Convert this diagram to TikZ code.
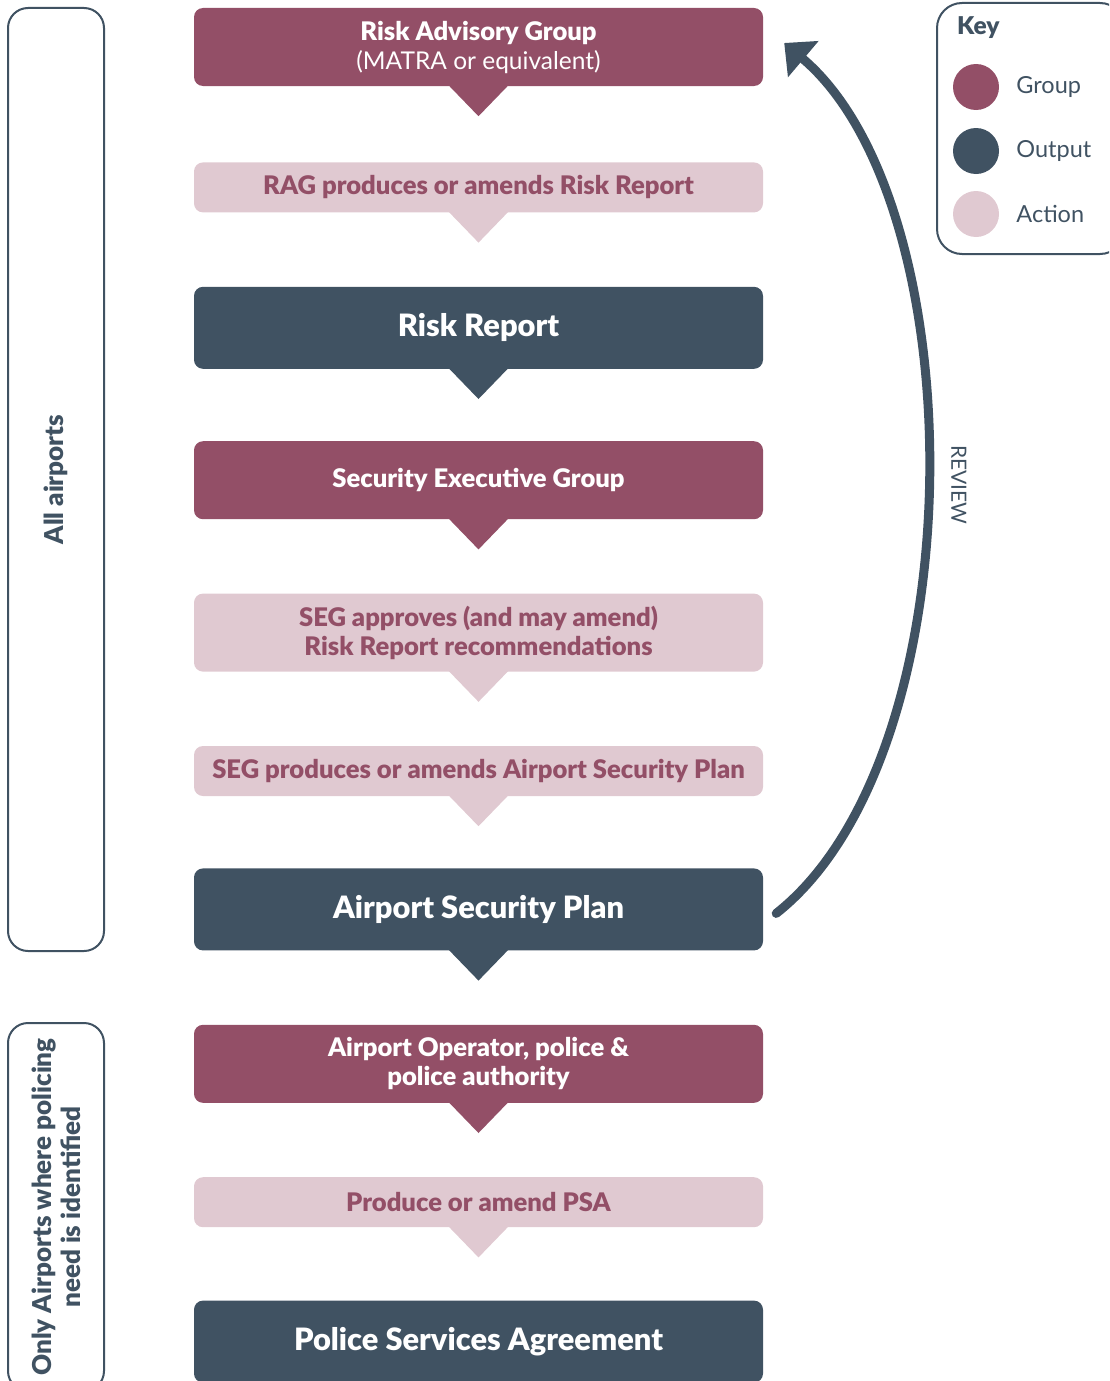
\documentclass[tikz,border=0pt]{standalone}
\usepackage{fontspec}
\setmainfont{Lato}[BoldFont={Lato Black}]
\usetikzlibrary{positioning,arrows.meta}
\definecolor{grpc}{HTML}{934F67}
\definecolor{outc}{HTML}{405262}
\definecolor{actc}{HTML}{E0C9D1}
\tikzset{
  % --- flow boxes ------------------------------------------------------------
  box/.style={rectangle,rounded corners=9pt,minimum width=569pt,align=center,
              inner sep=4pt,font=\fontsize{25.6}{29}\selectfont\bfseries},
  grp/.style={box,fill=grpc,text=white,minimum height=78pt},
  outp/.style={box,fill=outc,text=white,minimum height=82pt,
               font=\fontsize{30.8}{35}\selectfont\bfseries},
  act/.style={box,fill=actc,text=grpc,minimum height=50pt},
  % --- side panels and key ---------------------------------------------------
  panel/.style={draw=outc,line width=2pt,rounded corners=20pt,text=outc,
                align=center,font=\fontsize{26}{29}\selectfont\bfseries},
  keydot/.style={circle,minimum size=46pt,inner sep=0pt},
  keylab/.style={anchor=west,text=outc,inner sep=0pt,
                 font=\fontsize{23.5}{27}\selectfont},
  review/.style={outc,line width=9pt,line cap=round,
                 -{Triangle[length=25pt,width=46pt]}},
}

\begin{document}
\begin{tikzpicture}[x=1pt,y=-1pt,node distance=74pt]
  \useasboundingbox (0,0) rectangle (1109,1381);
  \clip (0,0) rectangle (1109,1381);

  \node[grp] (rag) at (478.5,47)
       {Risk Advisory Group\\\mdseries\fontsize{24.5}{29}\selectfont(MATRA or equivalent)};
  \node[act,below=76pt of rag] (ragact) {RAG produces or amends Risk Report};
  \node[outp,below=of ragact] (rr)    {Risk Report};
  \node[grp,below=72pt of rr] (seg)   {Security Executive Group};
  \node[act,below=of seg,minimum height=78pt] (segok)
       {SEG approves (and may amend)\\Risk Report recommendations};
  \node[act,below=of segok]  (segact) {SEG produces or amends Airport Security Plan};
  \node[outp,below=72pt of segact] (asp) {Airport Security Plan};
  \node[grp,below=of asp]    (aop)
       {Airport Operator, police \&\\police authority};
  \node[act,below=of aop]    (psa)    {Produce or amend PSA};
  \node[outp,below=73pt of psa] (agr) {Police Services Agreement};

  % pointers under each box, same colour as the box
  \foreach \n/\c in {rag/grpc,ragact/actc,rr/outc,seg/grpc,segok/actc,
                     segact/actc,asp/outc,aop/grpc,psa/actc}
    \fill[\c] ([xshift=-30pt,yshift=1pt]\n.south) --
              ([xshift=30pt,yshift=1pt]\n.south) --
              ([yshift=-30pt]\n.south) -- cycle;

  % review loop back to the top
  \draw[review] ([xshift=13pt,yshift=-4pt]asp.east)
       .. controls (977,755) and (976,205) .. ([xshift=21pt,yshift=4pt]rag.east);
  \node[rotate=-90,text=outc,font=\fontsize{21}{25}\selectfont] (rev)
       at (959,485) {REVIEW};

  % scope panels on the left
  \node[panel,rotate=90,minimum width=943pt,minimum height=96pt] (allap)
       at (56,479.5) {All airports};
  \node[panel,rotate=90,minimum width=368pt,minimum height=96pt] (polap)
       at (56,1207) {Only Airports where policing\\need is identified};

  % key
  \node[panel,minimum width=188pt,minimum height=251pt,rounded corners=25pt]
       (keybox) at (1031,128.5) {};
  \node[keylab,font=\fontsize{24.5}{28}\selectfont\bfseries] (keyt) at (957,28) {Key};
  \node[keydot,fill=grpc] (kg) at (976,87)  {};
  \node[keydot,fill=outc] (ko) at (976,151) {};
  \node[keydot,fill=actc] (ka) at (976,214) {};
  \node[keylab,right=17pt of kg] {Group};
  \node[keylab,right=17pt of ko] {Output};
  \node[keylab,right=17pt of ka] {Action};
\end{tikzpicture}
\end{document}
